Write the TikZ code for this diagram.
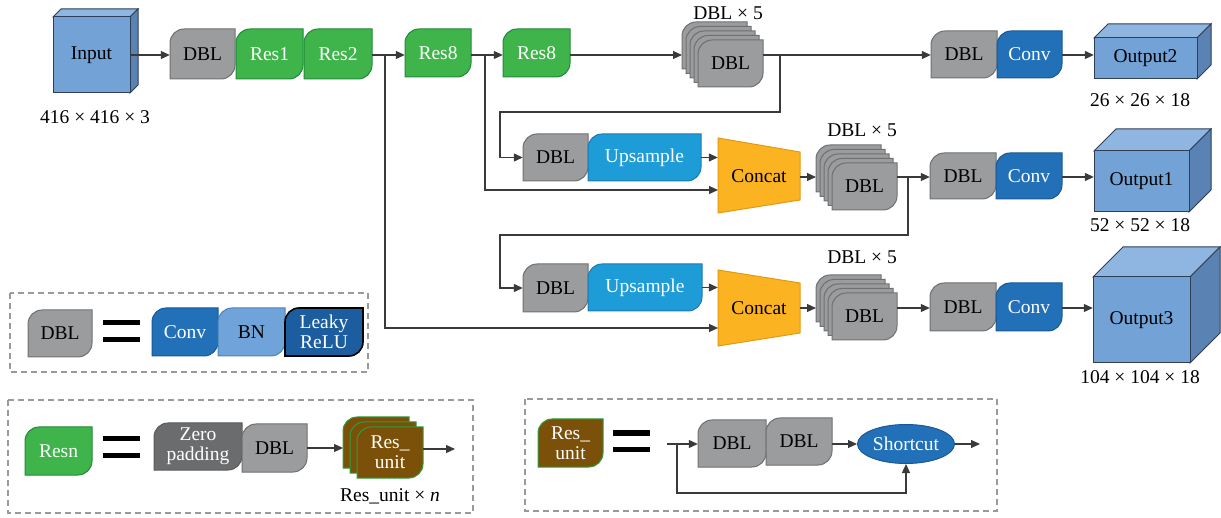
\documentclass[tikz,border=0pt]{standalone}
\usepackage{fontspec}
\setmainfont{Liberation Serif}
\usetikzlibrary{arrows.meta,shapes.geometric}

\definecolor{dblfill}{HTML}{9A9C9E}
\definecolor{dbldraw}{HTML}{6E7072}
\definecolor{resfill}{HTML}{3FB44A}
\definecolor{resdraw}{HTML}{23893A}
\definecolor{convfill}{HTML}{2270B8}
\definecolor{convdraw}{HTML}{1A5896}
\definecolor{upfill}{HTML}{1E9CD8}
\definecolor{updraw}{HTML}{1B7BB5}
\definecolor{bnfill}{HTML}{6FA3D9}
\definecolor{bndraw}{HTML}{4D84BD}
\definecolor{leakyfill}{HTML}{1C5D9F}
\definecolor{catfill}{HTML}{FBB321}
\definecolor{catdraw}{HTML}{E29A12}
\definecolor{cubefront}{HTML}{72A2D6}
\definecolor{cubetop}{HTML}{8FB5E1}
\definecolor{cubeside}{HTML}{5A83B3}
\definecolor{cubedraw}{HTML}{2D3E55}
\definecolor{brownfill}{HTML}{7B5008}
\definecolor{brownedge}{HTML}{2E9E3C}
\definecolor{zpfill}{HTML}{6B6C6E}
\definecolor{zpdraw}{HTML}{5A5B5C}
\definecolor{linec}{HTML}{3A3A3A}
\definecolor{dashc}{HTML}{9A9A9A}

\newcommand\fsz{\fontsize{19.5}{20}\selectfont}

% block with rounded top-left and bottom-right corners
\newcommand\leafshape[5]{%
  ({#1},{#2+#5}) .. controls ({#1},{#2+0.45*#5}) and ({#1+0.45*#5},{#2}) .. ({#1+#5},{#2})
  -- ({#3},{#2}) -- ({#3},{#4-#5})
  .. controls ({#3},{#4-0.45*#5}) and ({#3-0.45*#5},{#4}) .. ({#3-#5},{#4})
  -- ({#1},{#4}) -- cycle}

% name, x1, y1, x2, y2, shape style, text options, text
\newcommand\blk[8]{%
  \path[#6] \leafshape{#2}{#3}{#4}{#5}{14};
  \node[txt,#7,minimum width={#4-#2},minimum height={#5-#3}] (#1) at ({(#2+#4)/2},{(#3+#5)/2}) {#8};}

% stack of five DBL blocks: name, front x1, front y1
\newcommand\stk[3]{%
  \foreach \k in {4,3,2,1,0}{\path[dblst] \leafshape{#2-4*\k}{#3-4.5*\k}{#2+65-4*\k}{#3+47-4.5*\k}{14};}
  \node[txt,minimum width=65,minimum height=47] (#1) at ({#2+32.5},{#3+23.5}) {DBL};
  \coordinate (#1b) at ({#2-16},{#3+23.5});}

% box drawn in perspective: name, x1, y1, x2, y2, depth, text
\newcommand\cube[7]{%
  \path[cubest,fill=cubetop] (#2,#3) -- ({#2+#6},{#3-#6}) -- ({#4+#6},{#3-#6}) -- (#4,#3) -- cycle;
  \path[cubest,fill=cubeside] (#4,#3) -- ({#4+#6},{#3-#6}) -- ({#4+#6},{#5-#6}) -- (#4,#5) -- cycle;
  \path[cubest,fill=cubefront] (#2,#3) rectangle (#4,#5);
  \node[txt,minimum width={#4-#2},minimum height={#5-#3}] (#1) at ({(#2+#4)/2},{(#3+#5)/2}) {#7};}

% heavy equals sign: left x, upper bar y, lower bar y
\newcommand\eqsign[3]{%
  \fill[black] (#1,{#2-2.5}) rectangle ({#1+37},{#2+2.5});
  \fill[black] (#1,{#3-2.5}) rectangle ({#1+37},{#3+2.5});}

\begin{document}
\begin{tikzpicture}[x=1pt,y=-1pt,
  txt/.style={font=\fsz,inner sep=0pt,align=center,text=black},
  dblst/.style={fill=dblfill,draw=dbldraw,line width=1pt},
  resst/.style={fill=resfill,draw=resdraw,line width=1pt},
  convst/.style={fill=convfill,draw=convdraw,line width=1pt},
  upst/.style={fill=upfill,draw=updraw,line width=1pt},
  bnst/.style={fill=bnfill,draw=bndraw,line width=1pt},
  leakyst/.style={fill=leakyfill,draw=black,line width=1.6pt},
  brownst/.style={fill=brownfill,draw=brownedge,line width=1pt},
  zpst/.style={fill=zpfill,draw=zpdraw,line width=1pt},
  catst/.style={fill=catfill,draw=catdraw,line width=1pt},
  cubest/.style={draw=cubedraw,line width=1pt},
  conn/.style={draw=linec,line width=1.2pt},
  arr/.style={conn,-{Triangle[length=9pt,width=8pt]}},
  legendbox/.style={draw=dashc,line width=1.2pt,dash pattern=on 6pt off 4pt}]

\useasboundingbox (0,0) rectangle (1221,518);

% rows of the main path
\coordinate (yA) at (0,55);
\coordinate (yB) at (0,177);
\coordinate (yC) at (0,308);

% ---- backbone ----
\cube{input}{53}{17}{130}{93}{8}{Input}
\node[txt] (l416) at (95,117) {416 × 416 × 3};
\blk{dbl1}{170}{29}{235}{79}{dblst}{}{DBL}
\blk{res1}{236}{29}{303}{79}{resst}{text=white}{Res1}
\blk{res2}{304}{29}{372}{79}{resst}{text=white}{Res2}
\blk{res8a}{405}{29}{471}{77}{resst}{text=white}{Res8}
\blk{res8b}{503}{29}{570}{77}{resst}{text=white}{Res8}

% ---- scale 1 ----
\stk{s1}{698}{40}
\node[txt] (s1lab) at (728,13) {DBL × 5};
\blk{dbl3}{931}{31}{997}{78}{dblst}{}{DBL}
\blk{conv3}{997}{31}{1062}{78}{convst}{text=white}{Conv}
\cube{out2}{1094}{38}{1197}{79}{14}{Output2}
\node[txt] (l26) at (1140,100) {26 × 26 × 18};

% ---- scale 2 ----
\blk{dbl4}{523}{134}{588}{181}{dblst}{}{DBL}
\blk{ups1}{588}{134}{701}{181}{upst}{text=white}{Upsample}
\path[catst] (718,138) -- (800,152) -- (800,200) -- (718,213) -- cycle;
\node[txt,minimum width=82,minimum height=75] (cat1) at (759,176) {Concat};
\stk{s2}{832}{163}
\node[txt] (s2lab) at (862,130) {DBL × 5};
\blk{dbl5}{930}{153}{996}{199}{dblst}{}{DBL}
\blk{conv5}{996}{153}{1062}{199}{convst}{text=white}{Conv}
\cube{out1}{1094}{151}{1189}{212}{22}{Output1}
\node[txt] (l52) at (1140,225) {52 × 52 × 18};

% ---- scale 3 ----
\blk{dbl6}{523}{264}{588}{312}{dblst}{}{DBL}
\blk{ups2}{588}{264}{702}{311}{upst}{text=white}{Upsample}
\path[catst] (718,270) -- (800,283) -- (800,333) -- (718,346) -- cycle;
\node[txt,minimum width=82,minimum height=76] (cat2) at (759,308) {Concat};
\stk{s3}{832}{293}
\node[txt] (s3lab) at (862,257) {DBL × 5};
\blk{dbl7}{930}{283}{996}{331}{dblst}{}{DBL}
\blk{conv7}{996}{283}{1062}{331}{convst}{text=white}{Conv}
\cube{out3}{1093}{277}{1190}{363}{30}{Output3}
\node[txt] (l104) at (1140,377) {104 × 104 × 18};

% ---- connectors ----
\draw[arr] (input.east |- yA) -- (dbl1.west |- yA);
\draw[arr] (res2.east |- yA) -- (res8a.west |- yA);
\draw[arr] (res8a.east |- yA) -- (res8b.west |- yA);
\draw[arr] (res8b.east |- yA) -- (s1b |- yA);
\draw[arr] (s1.east |- yA) -- (dbl3.west |- yA);
\draw[arr] (conv3.east |- yA) -- (out2.west |- yA);

\coordinate (j1) at (385,55);
\coordinate (j2) at (485,55);
\coordinate (j3) at (780,55);
\coordinate (k1) at (500,112);
\coordinate (j4) at (908,177);
\coordinate (k2) at (500,235);
\coordinate (low1) at (718,190);
\coordinate (low2) at (718,328);

\draw[arr] (j1) |- (low2);
\draw[arr] (j2) |- (low1);
\draw[arr] (j3) |- (k1) |- (dbl4.west);
\draw[arr] (ups1.east) -- (ups1.east -| cat1.west);
\draw[arr] (cat1.east |- yB) -- (s2b |- yB);
\draw[arr] (s2.east |- yB) -- (dbl5.west |- yB);
\draw[arr] (conv5.east |- yB) -- (out1.west |- yB);
\draw[arr] (j4) |- (k2) |- (dbl6.west);
\draw[arr] (ups2.east) -- (ups2.east -| cat2.west);
\draw[arr] (cat2.east |- yC) -- (s3b |- yC);
\draw[arr] (s3.east |- yC) -- (dbl7.west |- yC);
\draw[arr] (conv7.east |- yC) -- (out3.west |- yC);

% ---- legend: DBL ----
\draw[legendbox] (10,293) rectangle (368,372);
\blk{ldbl}{28}{310}{92}{357}{dblst}{}{DBL}
\eqsign{103}{323}{340}
\blk{lconv}{152}{308}{218}{356}{convst}{text=white}{Conv}
\blk{lbn}{218}{308}{285}{356}{bnst}{}{BN}
\blk{lleaky}{285}{308}{363}{356}{leakyst}{text=white}{Leaky\\ReLU}

% ---- legend: Resn ----
\draw[legendbox] (8,400) rectangle (473,513);
\blk{lres}{25}{427}{92}{475}{resst}{text=white}{Resn}
\eqsign{103}{438}{455}
\blk{zp}{154}{423}{242}{470}{zpst}{text=white}{Zero\\padding}
\blk{zdbl}{242}{424}{307}{472}{dblst}{}{DBL}
\foreach \k in {2,1,0}{\path[brownst] \leafshape{357-7*\k}{427-5*\k}{423-7*\k}{478-5*\k}{14};}
\node[txt,text=white,minimum width=66,minimum height=51] (ru) at (390,452.5) {Res\_\\unit};
\coordinate (rub) at (343,448);
\coordinate (e1) at (455,449);
\draw[arr] (zdbl.east |- rub) -- (rub);
\draw[arr] (ru.east |- e1) -- (e1);
\node[txt] (rulab) at (390,496) {Res\_unit × \textit{n}};

% ---- legend: Res_unit ----
\draw[legendbox] (525,399) rectangle (997,511);
\blk{lru}{538}{419}{603}{467}{brownst}{text=white}{Res\_\\unit}
\eqsign{613}{433}{449}
\blk{ld1}{698}{420}{766}{467}{dblst}{}{DBL}
\blk{ld2}{766}{418}{832}{465}{dblst}{}{DBL}
\node[ellipse,fill=convfill,draw=convdraw,line width=1pt,minimum width=97,minimum height=39,
      inner sep=0pt,font=\fsz,text=white] (sc) at (906,444) {Shortcut};
\coordinate (st) at (667,444);
\coordinate (jj) at (677,444);
\coordinate (kb) at (677,493);
\coordinate (e2) at (980,444);
\draw[arr] (st) -- (st -| ld1.west);
\draw[arr] (ld2.east |- st) -- (sc.west);
\draw[arr] (sc.east) -- (e2);
\draw[arr] (jj) -- (kb) -| (sc.south);

\end{tikzpicture}
\end{document}
